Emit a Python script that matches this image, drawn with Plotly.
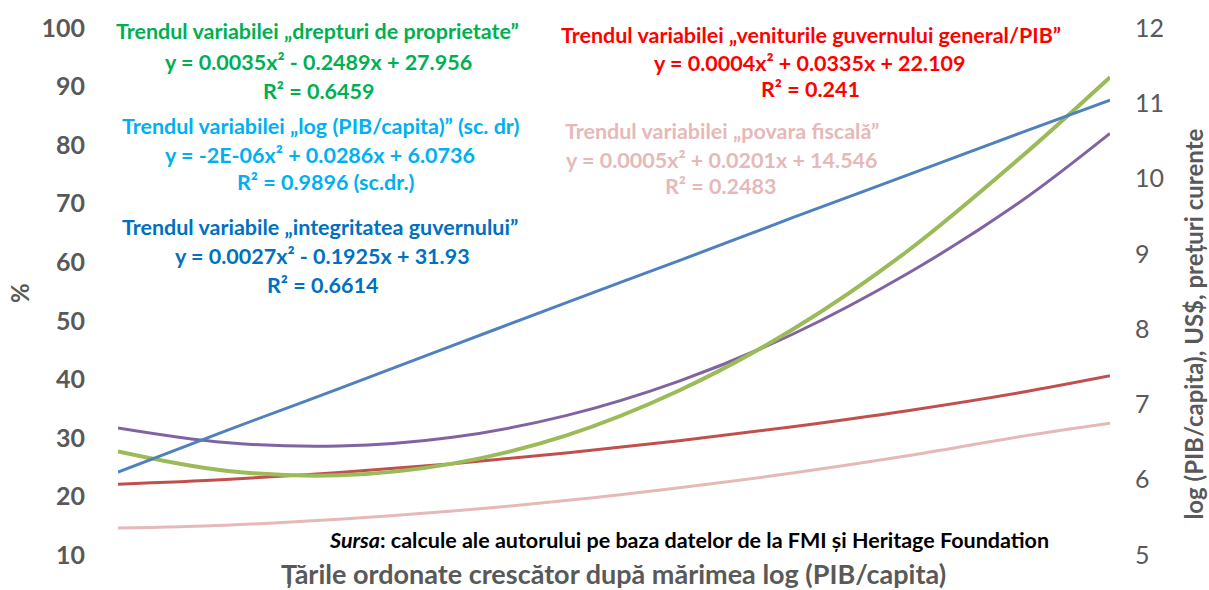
import plotly.graph_objects as go

# ---- data ----
countries = [1, 20, 40, 60, 80, 100, 120, 140, 160, 176]
log_pib = [6.10, 6.65, 7.21, 7.78, 8.35, 8.91, 9.48, 10.04, 10.60, 11.04]
venituri = [22.1, 22.9, 24.1, 25.6, 27.4, 29.5, 31.9, 34.6, 37.7, 40.6]
drepturi = [27.7, 24.4, 23.6, 25.6, 30.4, 38.1, 48.5, 61.7, 77.7, 91.6]
integritate = [31.7, 29.2, 28.6, 30.1, 33.8, 39.7, 47.7, 57.9, 70.2, 82.0]
povara = [14.6, 15.1, 16.1, 17.5, 19.3, 21.5, 24.0, 26.9, 30.2, 32.5]

left_ticks = [10, 20, 30, 40, 50, 60, 70, 80, 90, 100]
right_ticks = [5, 6, 7, 8, 9, 10, 11, 12]

W, H = 1209, 590
L, R, T, B = 118, 1110, 22, 555


def px(x):
    return (x - L) / (R - L)


def py(y):
    return (B - y) / (B - T)


FONT = "Lato"
GRAY = "#595959"

fig = go.Figure()
fig.add_trace(go.Scatter(x=countries, y=povara, mode="lines", line=dict(color="#E6B9B8", width=3, shape="spline"), name="povara"))
fig.add_trace(go.Scatter(x=countries, y=venituri, mode="lines", line=dict(color="#C0504D", width=3, shape="spline"), name="venituri"))
fig.add_trace(go.Scatter(x=countries, y=integritate, mode="lines", line=dict(color="#8064A2", width=3, shape="spline"), name="integritate"))
fig.add_trace(go.Scatter(x=countries, y=drepturi, mode="lines", line=dict(color="#9BBB59", width=4, shape="spline"), name="drepturi"))
fig.add_trace(go.Scatter(x=countries, y=log_pib, mode="lines", yaxis="y2", line=dict(color="#4F81BD", width=3, shape="spline"), name="log"))

fig.update_layout(
    width=W, height=H,
    margin=dict(l=L, r=W - R, t=T, b=H - B),
    plot_bgcolor="white", paper_bgcolor="white",
    showlegend=False,
    font=dict(family=FONT, color=GRAY),
    xaxis=dict(range=[1, 176], showticklabels=False, showgrid=False, zeroline=False, showline=False, ticks=""),
    yaxis=dict(range=[10, 100], tickvals=left_ticks, showgrid=False, zeroline=False, showline=False,
               tickfont=dict(family=FONT, size=25, color=GRAY, weight="bold"), ticklabelstandoff=32),
    yaxis2=dict(range=[5, 12], tickvals=right_ticks, overlaying="y", side="right", showgrid=False,
                zeroline=False, showline=False,
                tickfont=dict(family=FONT, size=25, color=GRAY), ticklabelstandoff=24),
)


def ann(text, x, y, color, size=21.5, bold=True, angle=0):
    fig.add_annotation(
        text=("<b>%s</b>" % text) if bold else text,
        x=px(x), y=py(y), xref="paper", yref="paper", showarrow=False,
        xanchor="center", yanchor="middle", textangle=angle,
        font=dict(family=FONT, size=size, color=color),
    )


GREEN = "#00B050"
CYAN = "#00B0F0"
BLUE = "#0070C0"
RED = "#FF0000"
PINK = "#E6B9B8"

ann("Trendul variabilei „drepturi de proprietate”", 317, 25, GREEN)
ann("y = 0.0035x² - 0.2489x + 27.956", 318, 56, GREEN)
ann("R² = 0.6459", 318, 86, GREEN)

ann("Trendul variabilei „log (PIB/capita)” (sc. dr)", 320, 121, CYAN)
ann("y = -2E-06x² + 0.0286x + 6.0736", 320, 150, CYAN)
ann("R² = 0.9896 (sc.dr.)", 326, 178, CYAN)

ann("Trendul variabile „integritatea guvernului”", 320, 223, BLUE)
ann("y = 0.0027x² - 0.1925x + 31.93", 322, 253, BLUE)
ann("R² = 0.6614", 322, 282, BLUE)

ann("Trendul variabilei „veniturile guvernului general/PIB”", 811, 29, RED)
ann("y = 0.0004x² + 0.0335x + 22.109", 810, 57, RED)
ann("R² = 0.241", 810, 84, RED)

ann("Trendul variabilei „povara fiscală”", 722, 126, PINK)
ann("y = 0.0005x² + 0.0201x + 14.546", 722, 155, PINK)
ann("R² = 0.2483", 720, 182, PINK)

ann("<i>Sursa</i>: calcule ale autorului pe baza datelor de la FMI și Heritage Foundation", 689, 540, "#000000", size=21.5)
ann("Țările ordonate crescător după mărimea log (PIB/capita)", 613, 574, GRAY, size=27)
ann("%", 20, 290, GRAY, size=24, angle=-90)
ann("log (PIB/capita), US$, prețuri curente", 1194, 322, GRAY, size=24, angle=-90)

fig.write_html("out.html", config={"displayModeBar": False},
               post_script="document.body.style.margin='0';document.body.style.padding='0';")
